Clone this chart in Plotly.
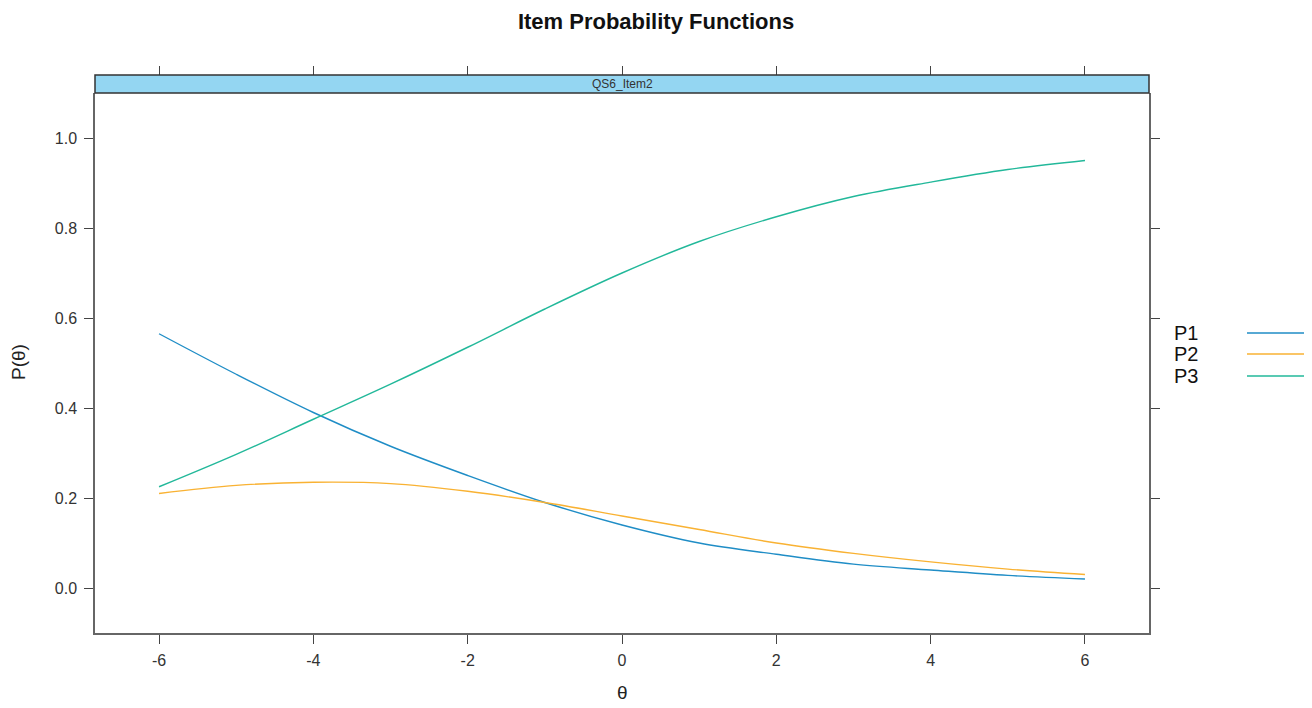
import plotly.graph_objects as go

theta = [-6, -5, -4, -3, -2, -1, 0, 1, 2, 3, 4, 5, 6]
p1 = [0.565, 0.475, 0.390, 0.315, 0.250, 0.190, 0.140, 0.100, 0.075, 0.053, 0.040, 0.028, 0.020]
p2 = [0.210, 0.228, 0.235, 0.232, 0.215, 0.190, 0.160, 0.130, 0.100, 0.077, 0.058, 0.042, 0.030]
p3 = [0.225, 0.297, 0.375, 0.453, 0.535, 0.620, 0.700, 0.770, 0.825, 0.870, 0.902, 0.930, 0.950]
series_names = ["P1", "P2", "P3"]
series_colors = ["#1f8dc6", "#f9b233", "#22b89a"]
x_ticks = [-6, -4, -2, 0, 2, 4, 6]
y_ticks = [0.0, 0.2, 0.4, 0.6, 0.8, 1.0]
strip_label = "QS6_Item2"

W, H = 1312, 708
OFF = 8  # page body margin
# target plot area in page pixels
PL, PR, PT, PB = 95, 1149, 75, 633
PW, PH = PR - PL, PB - PT
L = PL - OFF
T = PT - OFF
R = W - L - PW
B = H - T - PH
panel_top = 540 / PH

def px_x(px):
    return (px - PL) / PW

def px_y(py):
    return (PB - py) / PH

FONT = "Arial, Liberation Sans, sans-serif"

fig = go.Figure()
for name, vals, col in zip(series_names, [p1, p2, p3], series_colors):
    fig.add_trace(go.Scatter(x=theta, y=vals, mode="lines", name=name,
                             line=dict(color=col, width=1.4, shape="spline"),
                             showlegend=False, xaxis="x", yaxis="y"))

fig.add_trace(go.Scatter(x=[None], y=[None], xaxis="x2", yaxis="y", showlegend=False))

axis_common = dict(showgrid=False, zeroline=False, ticks="outside", ticklen=9,
                   tickwidth=1.2, tickcolor="#444",
                   tickfont=dict(family=FONT, size=16, color="#333"))

fig.update_layout(
    width=W, height=H,
    margin=dict(l=L, r=R, t=T, b=B, autoexpand=False),
    paper_bgcolor="white", plot_bgcolor="white",
    title=dict(text="<b>Item Probability Functions</b>", x=(656 - OFF) / W, xanchor="center",
               y=1 - 13 / H, yanchor="middle", font=dict(family=FONT, size=22, color="#111")),
    xaxis=dict(range=[-6.83, 6.83], tickvals=x_ticks, ticktext=[str(v) for v in x_ticks],
               anchor="y", showline=True, linecolor="#666", linewidth=1.5, mirror=False,
               ticklabelstandoff=3, **axis_common),
    xaxis2=dict(range=[-6.83, 6.83], tickvals=x_ticks, showticklabels=False,
                overlaying="x", side="top", anchor="free", position=1.0,
                showline=False, **axis_common),
    yaxis=dict(range=[-0.1, 1.1], domain=[0, panel_top], tickvals=y_ticks,
               ticktext=[f"{v:.1f}" for v in y_ticks], showline=True, linecolor="#666",
               linewidth=1.5, mirror="ticks", ticklabelstandoff=4, **axis_common),
)

# strip
fig.add_shape(type="rect", xref="paper", yref="paper", x0=0, x1=1, y0=panel_top, y1=1.0,
              fillcolor="#94d6f2", line=dict(color="#333", width=1.5), layer="above")
fig.add_annotation(text=strip_label, xref="paper", yref="paper", x=0.5,
                   y=(panel_top + 1) / 2, xanchor="center", yanchor="middle", showarrow=False,
                   font=dict(family=FONT, size=12, color="#333"))

# axis titles
fig.add_annotation(text="θ", xref="paper", yref="paper", x=px_x(622), y=px_y(692),
                   xanchor="center", yanchor="middle", showarrow=False,
                   font=dict(family=FONT, size=19, color="#222"))
fig.add_annotation(text="P(θ)", xref="paper", yref="paper", x=px_x(18), y=px_y(362),
                   xanchor="center", yanchor="middle", showarrow=False, textangle=-90,
                   font=dict(family=FONT, size=19, color="#222"))

# legend (text then line, lattice style)
leg_y = [333, 354, 376]
for name, col, py in zip(series_names, series_colors, leg_y):
    yp = px_y(py)
    fig.add_annotation(text=name, xref="paper", yref="paper", x=px_x(1172), y=yp,
                       xanchor="left", yanchor="middle", showarrow=False,
                       font=dict(family=FONT, size=20, color="#111"))
    fig.add_shape(type="line", xref="paper", yref="paper", x0=px_x(1247), x1=px_x(1306),
                  y0=yp, y1=yp, line=dict(color=col, width=1.5))

fig.write_html("out.html")
